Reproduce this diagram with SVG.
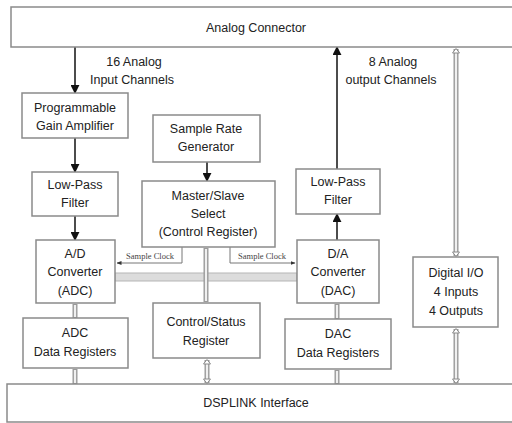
<svg xmlns="http://www.w3.org/2000/svg" width="512" height="423" viewBox="0 0 512 423">
<style>
.box{fill:#fff;stroke:#8a8a8a;stroke-width:1.5}
.t{font-family:"Liberation Sans",Arial,sans-serif;font-size:12.5px;fill:#222;text-anchor:middle}
.s{font-family:"Liberation Serif","Times New Roman",serif;font-size:8.5px;fill:#444;text-anchor:middle}
.arr{stroke:#111;stroke-width:1.5;fill:none}
.busO{stroke:#9a9a9a;stroke-width:5;fill:none}
.busI{stroke:#f0f0f0;stroke-width:2.2;fill:none}
.clk{stroke:#777;stroke-width:1;fill:none}
</style>
<defs>
<marker id="ah" viewBox="0 0 10 10" refX="9" refY="5" markerWidth="6" markerHeight="6" orient="auto"><path d="M0,0 L10,5 L0,10 z" fill="#111"/></marker>
<marker id="sh" viewBox="0 0 10 10" refX="9" refY="5" markerWidth="5" markerHeight="5" orient="auto"><path d="M0,1 L10,5 L0,9 z" fill="#333"/></marker>
</defs>
<rect width="512" height="423" fill="#fff"/>
<g id="connectors">
<line class="arr" x1="75" y1="47" x2="75" y2="93" marker-end="url(#ah)"/>
<line class="arr" x1="75" y1="138" x2="75" y2="172" marker-end="url(#ah)"/>
<line class="arr" x1="75" y1="216" x2="75" y2="240" marker-end="url(#ah)"/>
<line class="arr" x1="207" y1="162" x2="207" y2="181" marker-end="url(#ah)"/>
<line class="arr" x1="337" y1="240" x2="337" y2="214" marker-end="url(#ah)"/>
<line class="arr" x1="337" y1="169" x2="337" y2="47" marker-end="url(#ah)"/>
<rect x="115" y="273" width="182" height="8" fill="#dcdcdc" stroke="#b5b5b5" stroke-width="1"/>
<path class="busO" d="M206,248 V302"/><path class="busI" d="M206,249 V301"/>
<path class="busO" d="M75,304 V318"/><path class="busI" d="M75,305 V317"/>
<path class="busO" d="M75,369 V384"/><path class="busI" d="M75,370 V383"/>
<path class="busO" d="M337,304 V319"/><path class="busI" d="M337,305 V318"/>
<path class="busO" d="M337,370 V384"/><path class="busI" d="M337,371 V383"/>
<path class="busO" d="M207,360 V383"/><path class="busI" d="M207,361 V382"/>
<path class="busO" d="M456,49 V256"/><path class="busI" d="M456,50 V255"/>
<path class="busO" d="M456,329 V383"/><path class="busI" d="M456,330 V382"/>
<g fill="#fff" stroke="#8a8a8a" stroke-width="1">
<path d="M452.5,53 L456,48.5 L459.5,53 z"/>
<path d="M452.5,252 L456,256.5 L459.5,252 z"/>
<path d="M452.5,333 L456,328.5 L459.5,333 z"/>
<path d="M452.5,379 L456,383.5 L459.5,379 z"/>
<path d="M203.5,364 L207,359.5 L210.5,364 z"/>
<path d="M203.5,379 L207,383.5 L210.5,379 z"/>
</g>
<path class="clk" d="M182,247 V263 H117" marker-end="url(#sh)"/>
<path class="clk" d="M230,247 V263 H295" marker-end="url(#sh)"/>
</g>
<g id="analog-connector"><rect class="box" x="11" y="7" width="505" height="40"/><text class="t" x="256" y="32">Analog Connector</text></g>
<g id="label-in"><text class="t" x="134" y="66">16 Analog</text><text class="t" x="132" y="84">Input Channels</text></g>
<g id="label-out"><text class="t" x="393" y="66">8 Analog</text><text class="t" x="391" y="84">output Channels</text></g>
<g id="pga"><rect class="box" x="22" y="93" width="106" height="45"/><text class="t" x="75" y="112">Programmable</text><text class="t" x="75" y="130">Gain Amplifier</text></g>
<g id="srg"><rect class="box" x="153" y="115" width="107" height="47"/><text class="t" x="206" y="133">Sample Rate</text><text class="t" x="206" y="151">Generator</text></g>
<g id="lpf-in"><rect class="box" x="32" y="172" width="86" height="44"/><text class="t" x="75" y="189">Low-Pass</text><text class="t" x="75" y="207">Filter</text></g>
<g id="master-slave"><rect class="box" x="142" y="181" width="133" height="66"/><text class="t" x="208" y="200">Master/Slave</text><text class="t" x="208" y="218">Select</text><text class="t" x="208" y="236">(Control Register)</text></g>
<g id="lpf-out"><rect class="box" x="296" y="169" width="84" height="45"/><text class="t" x="338" y="186">Low-Pass</text><text class="t" x="338" y="204">Filter</text></g>
<g id="adc"><rect class="box" x="36" y="240" width="79" height="63"/><text class="t" x="75" y="258">A/D</text><text class="t" x="75" y="276">Converter</text><text class="t" x="75" y="295">(ADC)</text></g>
<g id="dac"><rect class="box" x="297" y="240" width="82" height="63"/><text class="t" x="338" y="258">D/A</text><text class="t" x="338" y="276">Converter</text><text class="t" x="338" y="295">(DAC)</text></g>
<g id="clk-labels"><text class="s" x="150" y="259">Sample Clock</text><text class="s" x="262" y="259">Sample Clock</text></g>
<g id="digital-io"><rect class="box" x="413" y="257" width="85" height="70"/><text class="t" x="456" y="277">Digital I/O</text><text class="t" x="456" y="296">4 Inputs</text><text class="t" x="456" y="315">4 Outputs</text></g>
<g id="adc-regs"><rect class="box" x="23" y="318" width="105" height="50"/><text class="t" x="75" y="337">ADC</text><text class="t" x="75" y="356">Data Registers</text></g>
<g id="ctrl-status"><rect class="box" x="153" y="303" width="107" height="55"/><text class="t" x="206" y="326">Control/Status</text><text class="t" x="206" y="345">Register</text></g>
<g id="dac-regs"><rect class="box" x="285" y="319" width="106" height="50"/><text class="t" x="338" y="338">DAC</text><text class="t" x="338" y="357">Data Registers</text></g>
<g id="dsplink"><rect class="box" x="7" y="384" width="510" height="38"/><text class="t" x="256" y="407">DSPLINK Interface</text></g>
</svg>
